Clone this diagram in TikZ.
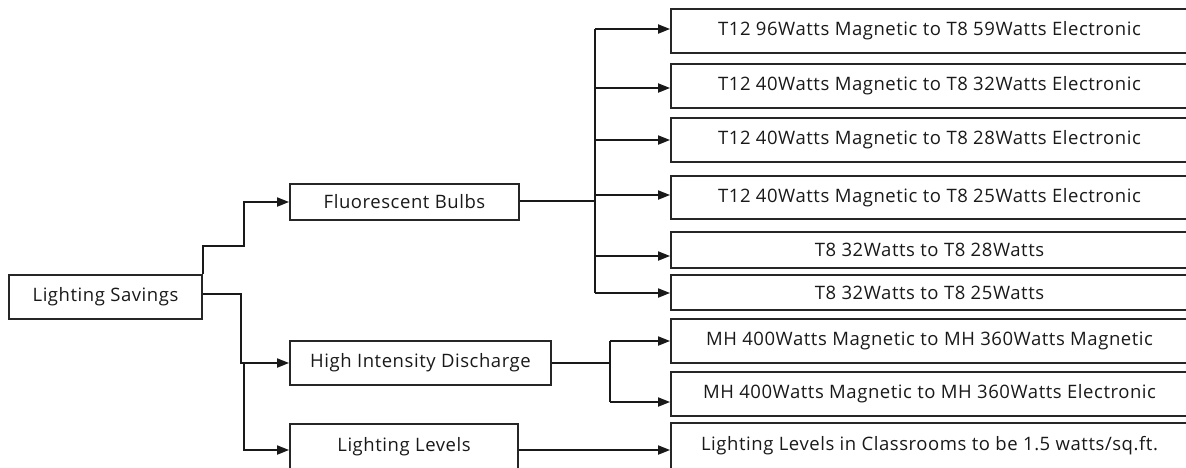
\documentclass[tikz,border=0pt]{standalone}
\usepackage{fontspec}
\setmainfont{Open Sans}[LetterSpace=3]
\usetikzlibrary{arrows.meta,calc}
\begin{document}
\begin{tikzpicture}[x=1pt,y=-1pt,
  box/.style={draw=black!85,line width=1.8pt,inner sep=0pt,font=\fontsize{18.5}{22}\selectfont,text=black!90},
  conn/.style={line width=1.8pt,draw=black!90},
  arr/.style={conn,-{Triangle[length=12pt,width=9pt]}}]
\useasboundingbox (0,0) rectangle (1186,467);
\clip (0,0) rectangle (1186,467);
% level 0
\node[box,minimum width=193pt,minimum height=44pt] (root) at (105.5,297) {Lighting Savings};
% level 1
\node[box,minimum width=229pt,minimum height=36pt] (fl) at (404.5,202) {Fluorescent Bulbs};
\node[box,minimum width=261pt,minimum height=44pt] (hid) at (420.5,363) {High Intensity Discharge};
\node[box,minimum width=228pt,minimum height=46pt] (ll) at (404,447) {Lighting Levels};
% level 2
\node[box,minimum width=517pt,minimum height=44pt] (b1) at (929.5,31) {T12 96Watts Magnetic to T8 59Watts Electronic};
\node[box,minimum width=517pt,minimum height=44pt] (b2) at (929.5,86) {T12 40Watts Magnetic to T8 32Watts Electronic};
\node[box,minimum width=517pt,minimum height=44pt] (b3) at (929.5,140) {T12 40Watts Magnetic to T8 28Watts Electronic};
\node[box,minimum width=517pt,minimum height=43pt] (b4) at (929.5,197.5) {T12 40Watts Magnetic to T8 25Watts Electronic};
\node[box,minimum width=517pt,minimum height=36pt] (b5) at (929.5,250) {T8 32Watts to T8 28Watts};
\node[box,minimum width=517pt,minimum height=35pt] (b6) at (929.5,292.5) {T8 32Watts to T8 25Watts};
\node[box,minimum width=517pt,minimum height=44pt] (b7) at (929.5,341) {MH 400Watts Magnetic to MH 360Watts Magnetic};
\node[box,minimum width=517pt,minimum height=44pt] (b8) at (929.5,394) {MH 400Watts Magnetic to MH 360Watts Electronic};
\node[box,minimum width=517pt,minimum height=46pt] (b9) at (929.5,446) {Lighting Levels in Classrooms to be 1.5 watts/sq.ft.};
% root connectors
\draw[arr] (root.north east) -- ++(0,-28) -| (244,202) -- (fl.west);
\draw[arr] (root.east |- 0,294) -| (241,363) -- (hid.west);
\draw[arr] (244,363) |- (ll.west |- 0,450);
% fluorescent trunk
\coordinate (ft) at (595,201);
\draw[conn] (fl.east |- ft) -- (ft);
\draw[conn] (595,29) -- (595,293);
\draw[arr] (595,29) -- (b1.west |- 0,29);
\draw[arr] (595,88) -- (b2.west |- 0,88);
\draw[arr] (595,140) -- (b3.west |- 0,140);
\draw[arr] (595,195) -- (b4.west |- 0,195);
\draw[arr] (595,256) -- (b5.west |- 0,256);
\draw[arr] (595,293) -- (b6.west |- 0,293);
% HID trunk
\draw[conn] (hid.east) -- (610,363);
\draw[conn] (610,341) -- (610,402);
\draw[arr] (610,341) -- (b7.west);
\draw[arr] (610,402) -- (b8.west |- 0,402);
% lighting levels
\draw[arr] (ll.east |- 0,450) -- (b9.west |- 0,450);
\end{tikzpicture}
\end{document}
